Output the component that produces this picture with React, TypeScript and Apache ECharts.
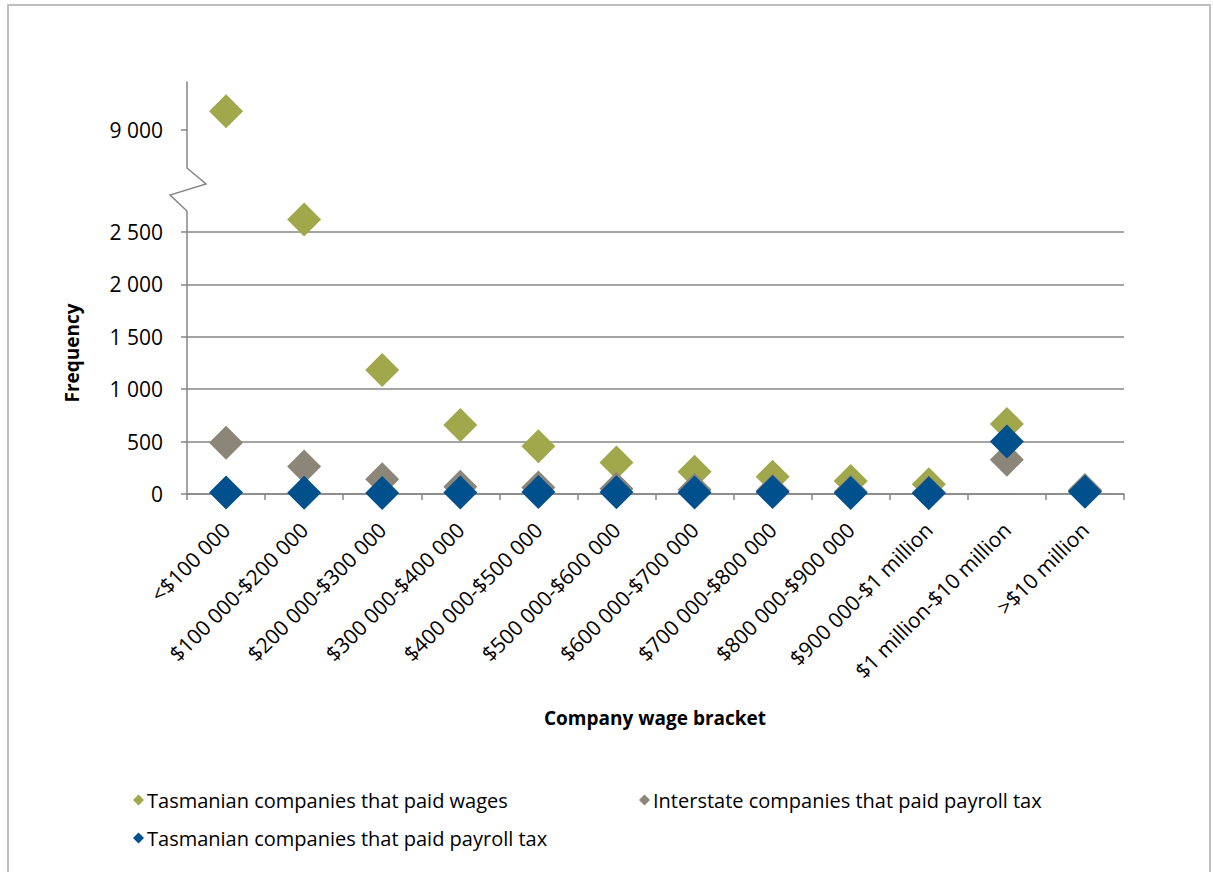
import { useEffect, useRef } from "react";
import * as echarts from "echarts";

// Company wage brackets along the x axis
const categories = [
  "<$100 000",
  "$100 000-$200 000",
  "$200 000-$300 000",
  "$300 000-$400 000",
  "$400 000-$500 000",
  "$500 000-$600 000",
  "$600 000-$700 000",
  "$700 000-$800 000",
  "$800 000-$900 000",
  "$900 000-$1 million",
  "$1 million-$10 million",
  ">$10 million",
];

// Frequencies per bracket
const tasWages = [9180, 2620, 1183, 658, 456, 300, 213, 165, 124, 92, 668, 30];
const interstatePayroll = [490, 262, 140, 70, 62, 50, 40, 32, 22, 15, 327, 38];
const tasPayroll = [15, 12, 10, 14, 20, 16, 14, 18, 10, 8, 500, 22];

const seriesNames = [
  "Tasmanian companies that paid wages",
  "Interstate companies that paid payroll tax",
  "Tasmanian companies that paid payroll tax",
];
const seriesColors = ["#A0A84B", "#8C8679", "#00508E"];

// Tick labels on the two segments of the broken value axis
const lowerTicks = [0, 500, 1000, 1500, 2000, 2500];
const upperTicks = [9000];

// Geometry of the broken axis (pixels)
const AXIS_X = 187;
const PLOT_RIGHT = 1124;
const ZERO_Y = 494;
const LOWER_TOP = 232;
const LOWER_AXIS_END = 211;
const UPPER_TOP = 82;
const UPPER_BOTTOM = 168;
const UPPER_TICK_Y = 130;
const LOWER_MAX = lowerTicks[lowerTicks.length - 1];
const LOWER_STEP = lowerTicks[1] - lowerTicks[0];
const UNITS_PER_PX = LOWER_MAX / (ZERO_Y - LOWER_TOP);
const UPPER_MIN = upperTicks[0] - (UPPER_BOTTOM - UPPER_TICK_Y) * UNITS_PER_PX;
const UPPER_MAX = upperTicks[0] + (UPPER_TICK_Y - UPPER_TOP) * UNITS_PER_PX;
// Values above this go to the upper segment
const BREAK_VALUE = LOWER_MAX + (LOWER_TOP - LOWER_AXIS_END) * UNITS_PER_PX;

const FONT = "'Open Sans', sans-serif";
const AXIS_GREY = "#868686";

const fmt = (v: number) => String(v).replace(/\B(?=(\d{3})+(?!\d))/g, " ");

export default function App() {
  const ref = useRef<HTMLDivElement>(null);

  useEffect(() => {
    if (!ref.current) return;
    const chart = echarts.init(ref.current, null, { renderer: "svg" });

    const gridCommon = { left: AXIS_X, right: 1213 - PLOT_RIGHT, containLabel: false };

    const makeSeries = (vals: number[], i: number, upper: boolean) => ({
      name: seriesNames[i],
      type: "scatter",
      xAxisIndex: upper ? 1 : 0,
      yAxisIndex: upper ? 1 : 0,
      symbol: "diamond",
      symbolSize: 34,
      clip: false,
      z: 2 + i,
      itemStyle: { color: seriesColors[i], opacity: 1 },
      emphasis: { disabled: true },
      data: vals.map((v) => ((v > BREAK_VALUE) === upper ? v : "-")),
    });

    const all = [tasWages, interstatePayroll, tasPayroll];
    const lowerSeries = all.map((vals, i) => makeSeries(vals, i, false));
    const upperSeries = all
      .map((vals, i) => makeSeries(vals, i, true))
      .filter((s) => s.data.some((d) => d !== "-"));

    const legendItem = (name: string, left: number, top: number) => ({
      data: [name],
      left,
      top,
      icon: "diamond",
      itemWidth: 11,
      itemHeight: 11,
      itemGap: 0,
      textStyle: { fontFamily: FONT, fontSize: 20, color: "#000", padding: [0, 0, 0, -2] },
    });

    const tickLabel = {
      fontFamily: FONT,
      fontSize: 21,
      color: "#000",
    };

    chart.setOption({
      animation: false,
      backgroundColor: "#fff",
      textStyle: { fontFamily: FONT },
      grid: [
        { ...gridCommon, top: LOWER_TOP, height: ZERO_Y - LOWER_TOP },
        { ...gridCommon, top: UPPER_TOP, height: UPPER_BOTTOM - UPPER_TOP },
      ],
      xAxis: [
        {
          type: "category",
          gridIndex: 0,
          data: categories,
          boundaryGap: true,
          axisLine: { lineStyle: { color: AXIS_GREY, width: 1.5 } },
          axisTick: { show: true, length: 6, lineStyle: { color: AXIS_GREY, width: 1.5 } },
          axisLabel: { ...tickLabel, interval: 0, rotate: 45, margin: 32 },
          splitLine: { show: false },
        },
        {
          type: "category",
          gridIndex: 1,
          data: categories,
          boundaryGap: true,
          show: false,
        },
      ],
      yAxis: [
        {
          type: "value",
          gridIndex: 0,
          min: lowerTicks[0],
          max: LOWER_MAX,
          interval: LOWER_STEP,
          axisLine: { show: true, lineStyle: { color: AXIS_GREY, width: 1.5 } },
          axisTick: { show: true, length: 6, lineStyle: { color: AXIS_GREY, width: 1.5 } },
          axisLabel: { ...tickLabel, margin: 24, formatter: (v: number) => fmt(v) },
          splitLine: { show: true, lineStyle: { color: AXIS_GREY, width: 1.5 } },
        },
        {
          type: "value",
          gridIndex: 1,
          min: UPPER_MIN,
          max: UPPER_MAX,
          axisLine: { show: true, lineStyle: { color: AXIS_GREY, width: 1.5 } },
          axisTick: {
            show: true,
            length: 6,
            customValues: upperTicks,
            lineStyle: { color: AXIS_GREY, width: 1.5 },
          },
          axisLabel: {
            ...tickLabel,
            margin: 24,
            customValues: upperTicks,
            formatter: (v: number) => fmt(v),
          },
          splitLine: { show: false },
        },
      ],
      legend: [
        legendItem(seriesNames[0], 128, 785),
        legendItem(seriesNames[1], 634, 785),
        legendItem(seriesNames[2], 128, 823),
      ],
      graphic: [
        {
          type: "rect",
          shape: { x: 8, y: 5, width: 1202, height: 880 },
          style: { fill: "none", stroke: "#BFBFBF", lineWidth: 2 },
          silent: true,
        },
        {
          type: "line",
          shape: { x1: AXIS_X, y1: LOWER_AXIS_END, x2: AXIS_X, y2: LOWER_TOP },
          style: { stroke: AXIS_GREY, lineWidth: 1.5 },
          silent: true,
        },
        {
          type: "polyline",
          shape: {
            points: [
              [AXIS_X, UPPER_BOTTOM],
              [206, 184],
              [170, 195],
              [AXIS_X, LOWER_AXIS_END],
            ],
          },
          style: { stroke: AXIS_GREY, lineWidth: 1.5, fill: "none" },
          silent: true,
        },
        {
          type: "text",
          x: 72,
          y: 353,
          rotation: Math.PI / 2,
          style: {
            text: "Frequency",
            fontFamily: FONT,
            fontSize: 19,
            fontWeight: "bold",
            fill: "#000",
            align: "center",
            verticalAlign: "middle",
          },
          silent: true,
        },
        {
          type: "text",
          x: 655,
          y: 718,
          style: {
            text: "Company wage bracket",
            fontFamily: FONT,
            fontSize: 19,
            fontWeight: "bold",
            fill: "#000",
            align: "center",
            verticalAlign: "middle",
          },
          silent: true,
        },
      ],
      series: [...lowerSeries, ...upperSeries],
    });

    return () => chart.dispose();
  }, []);

  return (
    <div
      ref={ref}
      style={{ position: "absolute", left: 0, top: 0, width: 1213, height: 872 }}
    />
  );
}
